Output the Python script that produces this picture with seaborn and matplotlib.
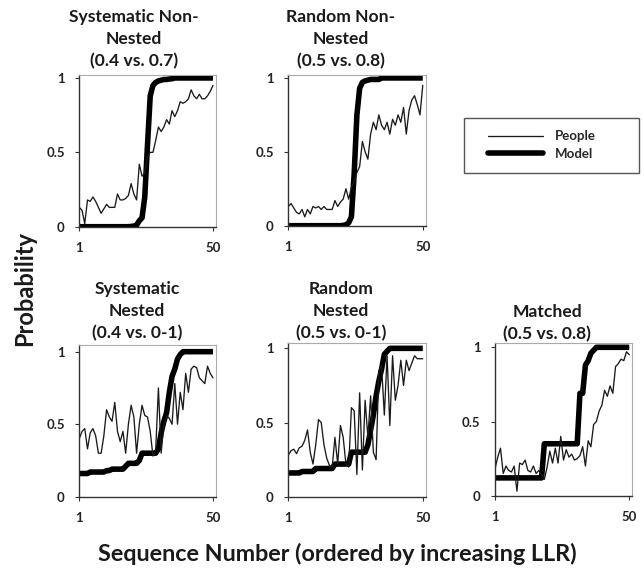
# -*- coding: utf-8 -*-
import matplotlib
matplotlib.use('Agg')
import pandas as pd
import matplotlib.pyplot as plt
import seaborn as sns
from matplotlib.patches import Rectangle
from matplotlib.lines import Line2D

sns.set_style('white')
plt.rcParams['font.family'] = ['Lato', 'DejaVu Sans']

# 序號 1..50
seq = list(range(1, 51))

titles = ['Systematic Non-\nNested\n(0.4 vs. 0.7)',
          'Random Non-\nNested\n(0.5 vs. 0.8)',
          'Systematic\nNested\n(0.4 vs. 0-1)',
          'Random\nNested\n(0.5 vs. 0-1)',
          'Matched\n(0.5 vs. 0.8)']

people_sys_non = [0.13, 0.11, 0.02, 0.18, 0.17, 0.20, 0.17, 0.13, 0.09, 0.12,
                  0.15, 0.13, 0.13, 0.13, 0.22, 0.18, 0.18, 0.19, 0.21, 0.29,
                  0.22, 0.18, 0.42, 0.34, 0.36, 0.47, 0.50, 0.50, 0.58, 0.67,
                  0.64, 0.67, 0.72, 0.69, 0.78, 0.74, 0.78, 0.84, 0.83, 0.84,
                  0.86, 0.92, 0.88, 0.86, 0.89, 0.86, 0.86, 0.88, 0.91, 0.95]
model_sys_non = [0, 0, 0, 0, 0, 0, 0, 0, 0, 0,
                 0, 0, 0, 0, 0, 0, 0, 0, 0, 0.002,
                 0.004, 0.01, 0.04, 0.06, 0.20, 0.55, 0.88, 0.95, 0.97, 0.98,
                 0.985, 0.99, 0.99, 0.993, 0.995, 1, 1, 1, 1, 1,
                 1, 1, 1, 1, 1, 1, 1, 1, 1, 1]

people_rand_non = [0.13, 0.15, 0.12, 0.09, 0.08, 0.11, 0.06, 0.11, 0.08, 0.13,
                   0.12, 0.13, 0.11, 0.13, 0.11, 0.11, 0.11, 0.17, 0.13, 0.16,
                   0.18, 0.25, 0.18, 0.26, 0.30, 0.36, 0.40, 0.57, 0.50, 0.45,
                   0.62, 0.70, 0.65, 0.75, 0.68, 0.65, 0.70, 0.62, 0.72, 0.68,
                   0.75, 0.70, 0.80, 0.62, 0.78, 0.85, 0.88, 0.82, 0.75, 0.95]
model_rand_non = [0, 0, 0, 0, 0, 0, 0, 0, 0, 0,
                  0, 0, 0, 0, 0, 0, 0, 0, 0, 0,
                  0.002, 0.005, 0.02, 0.06, 0.35, 0.75, 0.93, 0.97, 0.98, 0.985,
                  0.99, 0.99, 0.99, 0.99, 1, 1, 1, 1, 1, 1,
                  1, 1, 1, 1, 1, 1, 1, 1, 1, 1]

people_sys_nest = [0.40, 0.45, 0.47, 0.33, 0.44, 0.47, 0.42, 0.30, 0.30, 0.42,
                   0.60, 0.55, 0.52, 0.65, 0.45, 0.38, 0.45, 0.30, 0.50, 0.63,
                   0.55, 0.30, 0.50, 0.63, 0.56, 0.55, 0.45, 0.28, 0.32, 0.75,
                   0.30, 0.50, 0.56, 0.54, 0.50, 0.78, 0.50, 0.72, 0.60, 0.85,
                   0.72, 0.88, 0.90, 0.89, 0.82, 0.80, 0.78, 0.90, 0.85, 0.82]
model_sys_nest = [0.16, 0.16, 0.16, 0.16, 0.17, 0.17, 0.17, 0.17, 0.17, 0.17,
                  0.18, 0.18, 0.19, 0.19, 0.19, 0.19, 0.19, 0.21, 0.23, 0.23,
                  0.23, 0.23, 0.25, 0.30, 0.30, 0.30, 0.30, 0.30, 0.30, 0.33,
                  0.44, 0.52, 0.58, 0.72, 0.83, 0.88, 0.95, 0.98, 1, 1,
                  1, 1, 1, 1, 1, 1, 1, 1, 1, 1]

people_rand_nest = [0.28, 0.31, 0.32, 0.29, 0.33, 0.34, 0.38, 0.45, 0.30, 0.22,
                    0.35, 0.52, 0.50, 0.35, 0.26, 0.21, 0.20, 0.40, 0.22, 0.48,
                    0.40, 0.22, 0.20, 0.60, 0.58, 0.15, 0.70, 0.18, 0.65, 0.40,
                    0.68, 0.30, 0.25, 0.85, 0.88, 0.55, 0.95, 0.48, 0.95, 0.65,
                    0.75, 0.92, 0.75, 0.92, 0.85, 0.90, 0.95, 0.93, 0.93, 0.93]
model_rand_nest = [0.16, 0.16, 0.16, 0.16, 0.16, 0.17, 0.17, 0.17, 0.17, 0.17,
                   0.19, 0.19, 0.19, 0.19, 0.19, 0.19, 0.19, 0.22, 0.22, 0.22,
                   0.22, 0.22, 0.22, 0.30, 0.30, 0.30, 0.30, 0.30, 0.30, 0.35,
                   0.45, 0.55, 0.68, 0.78, 0.86, 0.96, 0.98, 1, 1, 1,
                   1, 1, 1, 1, 1, 1, 1, 1, 1, 1]

people_matched = [0.18, 0.26, 0.32, 0.15, 0.20, 0.17, 0.16, 0.20, 0.03, 0.22,
                  0.21, 0.24, 0.17, 0.16, 0.20, 0.15, 0.17, 0.14, 0.11, 0.19,
                  0.30, 0.22, 0.32, 0.22, 0.40, 0.24, 0.31, 0.26, 0.28, 0.24,
                  0.25, 0.27, 0.33, 0.20, 0.37, 0.33, 0.48, 0.50, 0.57, 0.61,
                  0.71, 0.67, 0.74, 0.69, 0.87, 0.89, 0.92, 0.91, 0.97, 0.95]
model_matched = [0.12, 0.12, 0.12, 0.12, 0.12, 0.12, 0.12, 0.12, 0.12, 0.12,
                 0.12, 0.12, 0.12, 0.12, 0.12, 0.12, 0.12, 0.12, 0.35, 0.35,
                 0.35, 0.35, 0.35, 0.35, 0.35, 0.35, 0.35, 0.35, 0.35, 0.35,
                 0.35, 0.69, 0.69, 0.88, 0.91, 0.96, 0.98, 1, 1, 1,
                 1, 1, 1, 1, 1, 1, 1, 1, 1, 1]

people_all = [people_sys_non, people_rand_non, people_sys_nest, people_rand_nest, people_matched]
model_all = [model_sys_non, model_rand_non, model_sys_nest, model_rand_nest, model_matched]

W, H = 644, 571
fig = plt.figure(figsize=(W / 100, H / 100), dpi=100)

# 每個小圖的像素框 (left, top, right, bottom) 和 y 上限
boxes = [(79.3, 75, 215.7, 226.7), (288.3, 75, 425.5, 225.7),
         (79.3, 345.3, 215.7, 496.7), (288.3, 343.3, 425.5, 496.7),
         (495, 343.3, 632, 495.7)]
ytops = [1.02, 1.02, 1.044, 1.034, 1.027]
title_pos = [(134, 39), (341, 39), (137, 311), (341, 311), (547, 323)]

for k in range(5):
    l, t, r, b = boxes[k]
    ax = fig.add_axes([l / W, 1 - b / H, (r - l) / W, (b - t) / H])
    df = pd.DataFrame({'seq': seq, 'People': people_all[k], 'Model': model_all[k]})
    sns.lineplot(data=df, x='seq', y='Model', ax=ax, color='black', lw=4.0,
                 estimator=None, solid_capstyle='butt')
    sns.lineplot(data=df, x='seq', y='People', ax=ax, color='#1a1a1a', lw=0.95,
                 estimator=None)
    ax.set_xlim(1, 51)
    ax.set_ylim(0, ytops[k])
    ax.set_xticks([1, 50])
    ax.set_xticklabels(['1', '50'])
    ax.set_yticks([0, 0.5, 1])
    ax.set_yticklabels(['0', '0.5', '1'])
    ax.set_xlabel('')
    ax.set_ylabel('')
    for s in ['left', 'bottom']:
        ax.spines[s].set_color('#333333')
        ax.spines[s].set_linewidth(1.0)
    for s in ['top', 'right']:
        ax.spines[s].set_color('#aaaaaa')
        ax.spines[s].set_linewidth(0.8)
    ax.tick_params(axis='both', which='major', length=3, width=0.8, color='#333333',
                   direction='out', labelsize=9.5, labelcolor='#222222')
    ax.tick_params(axis='x', pad=8, bottom=True)
    ax.tick_params(axis='y', pad=7.5, left=True)
    for lab in ax.get_xticklabels() + ax.get_yticklabels():
        lab.set_fontweight('bold')
    tx, ty = title_pos[k]
    fig.text(tx / W, 1 - ty / H, titles[k], ha='center', va='center',
             fontsize=12.6, fontweight='bold', linespacing=1.45, color='#1a1a1a')

fig.text(25 / W, 1 - 289 / H, 'Probability', rotation=90, ha='center', va='center',
         fontsize=17, fontweight='bold', color='#1a1a1a')
fig.text(337 / W, 1 - 554 / H, 'Sequence Number (ordered by increasing LLR)',
         ha='center', va='center', fontsize=16.8, fontweight='bold', color='#1a1a1a')

# 圖例
fig.patches.append(Rectangle((464 / W, 1 - 172.7 / H), (639.3 - 464) / W, (172.7 - 118.3) / H,
                             transform=fig.transFigure, fill=False, edgecolor='#555555', lw=1.0))
handles = [Line2D([], [], color='#1a1a1a', lw=0.95), Line2D([], [], color='black', lw=4.0)]
fig.legend(handles, ['People', 'Model'], loc='center left', bbox_to_anchor=(488 / W, 1 - 145 / H),
           frameon=False, borderpad=0, borderaxespad=0, handlelength=4.2, handletextpad=0.9,
           labelspacing=0.4, prop={'weight': 'bold', 'size': 9.5})

fig.savefig('out.png', dpi=100)
